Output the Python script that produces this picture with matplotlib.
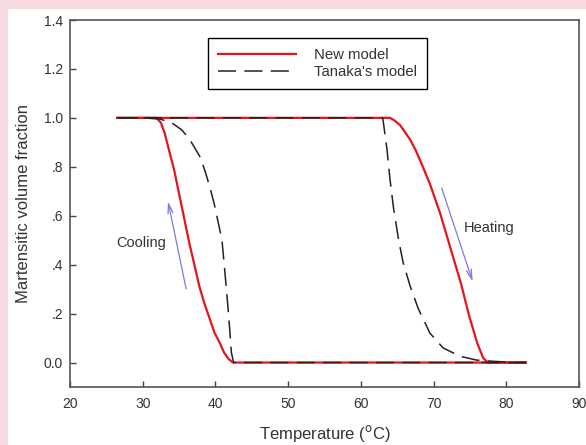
import matplotlib
matplotlib.use('Agg')
import matplotlib.pyplot as plt
from matplotlib.patches import Rectangle

plt.rcParams['font.family'] = ['Liberation Sans', 'DejaVu Sans']
plt.rcParams['lines.scale_dashes'] = False

# ---- data ----
# New model, cooling branch (temperature decreasing: 0 -> 1)
new_cool_T = [82.7, 42.4, 41.8, 41.2, 40.6, 39.9, 39.2, 38.5, 37.8, 37.1, 36.4,
              35.7, 35.0, 34.3, 33.6, 33.0, 32.5, 31.9, 26.5]
new_cool_f = [0.0, 0.0, 0.015, 0.04, 0.08, 0.12, 0.18, 0.24, 0.31, 0.40, 0.49,
              0.59, 0.69, 0.79, 0.87, 0.94, 0.98, 1.0, 1.0]
# New model, heating branch (temperature increasing: 1 -> 0)
new_heat_T = [26.5, 64.0, 64.6, 65.4, 66.1, 66.8, 67.5, 68.1, 68.8, 69.5, 70.2,
              70.9, 71.5, 72.0, 72.6, 73.2, 73.8, 74.3, 74.9, 75.5, 76.0, 76.4,
              76.8, 77.1, 77.5, 82.7]
new_heat_f = [1.0, 1.0, 0.99, 0.97, 0.94, 0.91, 0.87, 0.83, 0.78, 0.73, 0.67,
              0.61, 0.55, 0.50, 0.44, 0.38, 0.32, 0.26, 0.19, 0.13, 0.08, 0.05,
              0.02, 0.01, 0.0, 0.0]
# Tanaka's model, cooling branch
tan_cool_T = [82.7, 42.5, 42.2, 41.8, 41.3, 40.9, 40.4, 39.9, 39.3, 38.6, 37.9,
              36.5, 35.4, 34.0, 32.4, 30.0, 26.5]
tan_cool_f = [0.0, 0.0, 0.04, 0.20, 0.37, 0.50, 0.57, 0.64, 0.71, 0.78, 0.84,
              0.91, 0.95, 0.98, 0.995, 1.0, 1.0]
# Tanaka's model, heating branch
tan_heat_T = [26.5, 63.0, 63.1, 63.6, 64.0, 64.5, 65.2, 65.8, 66.8, 67.9, 69.5,
              71.3, 73.6, 75.9, 78.2, 81.4, 82.7]
tan_heat_f = [1.0, 1.0, 0.98, 0.87, 0.75, 0.63, 0.50, 0.41, 0.31, 0.22, 0.12,
              0.06, 0.026, 0.01, 0.005, 0.0, 0.0]

x_ticks = [20, 30, 40, 50, 60, 70, 80, 90]
y_ticks = [0.0, 0.2, 0.4, 0.6, 0.8, 1.0, 1.2, 1.4]
y_tick_labels = ['0.0', '.2', '.4', '.6', '.8', '1.0', '1.2', '1.4']

# annotation positions (data coords)
cool_text = (29.8, 0.487)
heat_text = (77.7, 0.551)
cool_arrow_tail, cool_arrow_head = (36.05, 0.29), (33.4, 0.67)
heat_arrow_tail, heat_arrow_head = (71.0, 0.724), (75.5, 0.32)

# ---- figure ----
W, H = 586, 445
fig = plt.figure(figsize=(W / 100, H / 100), dpi=100, facecolor='#f8dbe0')
fig.patches.append(Rectangle((8 / W, 0), 1, 1 - 9 / H, transform=fig.transFigure,
                             facecolor='white', edgecolor='none', zorder=-10))
ax = fig.add_axes([70 / W, 1 - 387 / H, 509 / W, 367 / H])
ax.set_zorder(1)

red = '#e8141a'
blk = '#222222'
dash = (0, (13, 6))

ax.plot(new_cool_T, new_cool_f, color=red, lw=1.6, zorder=2, label='New model')
ax.plot(new_heat_T, new_heat_f, color=red, lw=1.6, zorder=2)
ax.plot(tan_cool_T, tan_cool_f, color=blk, lw=1.1, ls=dash, zorder=3,
        label="Tanaka's model")
ax.plot(tan_heat_T, tan_heat_f, color=blk, lw=1.1, ls=dash, zorder=3)

ax.set_xlim(20, 90)
ax.set_ylim(-0.1, 1.4)
ax.set_xticks(x_ticks)
ax.set_xticklabels([str(v) for v in x_ticks])
ax.set_yticks(y_ticks)
ax.set_yticklabels(y_tick_labels)
ax.tick_params(direction='in', length=4, width=1.0, color='#444444',
               labelsize=10, labelcolor='#333333')
ax.tick_params(axis='x', pad=7)
ax.tick_params(axis='y', pad=5)
for s in ax.spines.values():
    s.set_color('#555555')
    s.set_linewidth(1.2)

ax.set_xlabel('Temperature ($^{\\mathrm{o}}$C)', fontsize=12, color='#333333',
              labelpad=8.5)
ax.set_ylabel('Martensitic volume fraction', fontsize=12, color='#333333',
              labelpad=9)

ax.text(*cool_text, 'Cooling', fontsize=10.5, color='#333333', ha='center', va='center')
ax.text(*heat_text, 'Heating', fontsize=10.5, color='#333333', ha='center', va='center')

arrow_kw = dict(arrowstyle='->,head_length=0.7,head_width=0.18', color='#7a7ae8', lw=0.9)
ax.annotate('', xy=cool_arrow_head, xytext=cool_arrow_tail, arrowprops=arrow_kw)
ax.annotate('', xy=heat_arrow_head, xytext=heat_arrow_tail, arrowprops=arrow_kw)

leg = ax.legend(loc='upper left', bbox_to_anchor=(0.271, 0.951), fontsize=10.7,
                frameon=True, fancybox=False, edgecolor='black', framealpha=1,
                handlelength=5.25, handletextpad=1.2, borderpad=0.68,
                labelspacing=0.22, borderaxespad=0)
leg.get_frame().set_linewidth(1.0)
for t in leg.get_texts():
    t.set_color('#333333')

fig.savefig('out.png', dpi=100, facecolor=fig.get_facecolor())
